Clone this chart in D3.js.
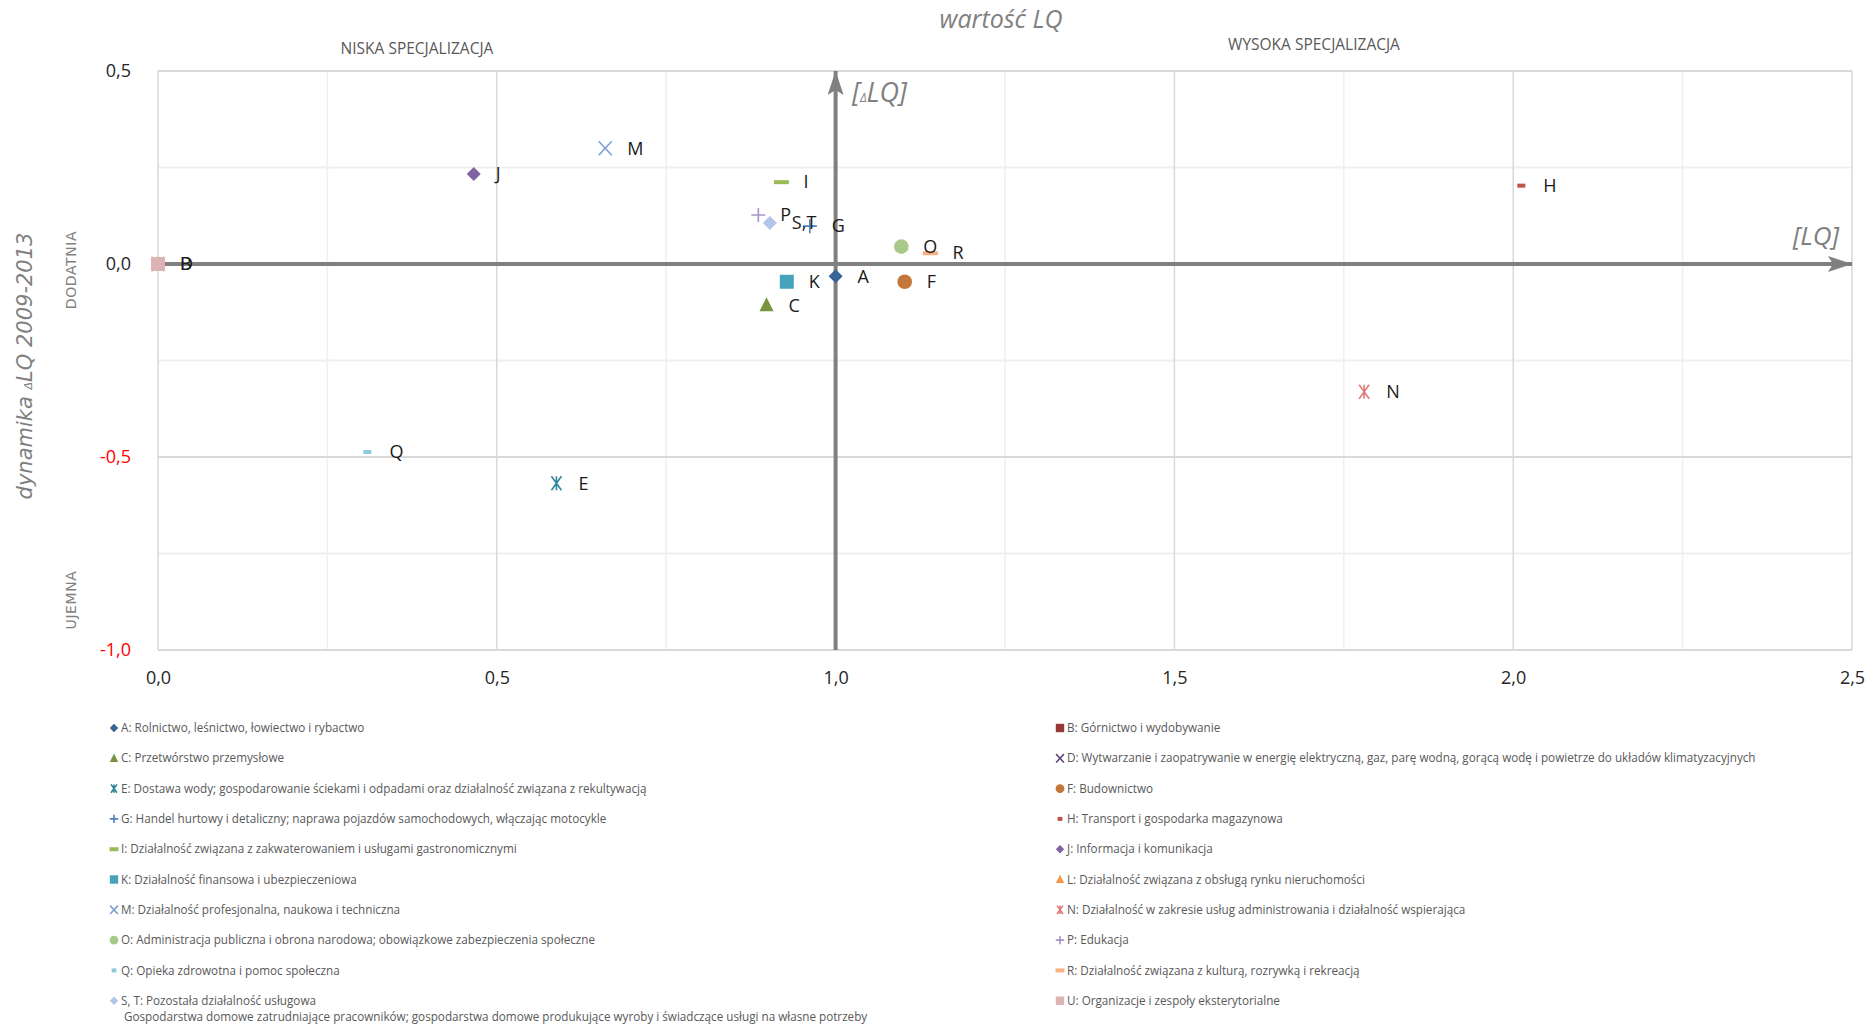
<!DOCTYPE html>
<html>
<head>
<meta charset="utf-8">
<script src="https://cdn.jsdelivr.net/npm/d3@7"></script>
<style>
    html, body { margin: 0; padding: 0; background: #fff; }
    svg { display: block; }
</style>
</head>
<body>
<svg id="chart" width="1865" height="1025"></svg>
<script>
// sections of the economy (PKD)
var codes = ['A', 'B', 'C', 'D', 'E', 'F', 'G', 'H', 'I', 'J', 'K', 'L', 'M', 'N', 'O', 'P', 'Q', 'R', 'S, T', 'U'];
var pointLabels = ['A', 'B', 'C', 'D', 'E', 'F', 'G', 'H', 'I', 'J', 'K', '', 'M', 'N', 'O', 'P', 'Q', 'R', 'S,T', ''];
var names = [
    'Rolnictwo, leśnictwo, łowiectwo i rybactwo',
    'Górnictwo i wydobywanie',
    'Przetwórstwo przemysłowe',
    'Wytwarzanie i zaopatrywanie w energię elektryczną, gaz, parę wodną, gorącą wodę i powietrze do układów klimatyzacyjnych',
    'Dostawa wody; gospodarowanie ściekami i odpadami oraz działalność związana z rekultywacją',
    'Budownictwo',
    'Handel hurtowy i detaliczny; naprawa pojazdów samochodowych, włączając motocykle',
    'Transport i gospodarka magazynowa',
    'Działalność związana z zakwaterowaniem i usługami gastronomicznymi',
    'Informacja i komunikacja',
    'Działalność finansowa i ubezpieczeniowa',
    'Działalność związana z obsługą rynku nieruchomości',
    'Działalność profesjonalna, naukowa i techniczna',
    'Działalność w zakresie usług administrowania i działalność wspierająca',
    'Administracja publiczna i obrona narodowa; obowiązkowe zabezpieczenia społeczne',
    'Edukacja',
    'Opieka zdrowotna i pomoc społeczna',
    'Działalność związana z kulturą, rozrywką i rekreacją',
    'Pozostała działalność usługowa',
    'Organizacje i zespoły eksterytorialne'
];
var nameSecondLine = 'Gospodarstwa domowe zatrudniające pracowników; gospodarstwa domowe produkujące wyroby i świadczące usługi na własne potrzeby';

// LQ value and its change 2009-2013
var lqValues  = [1.00, 0, 0.898, 0, 0.588, 1.102, 0.962, 2.012, 0.920, 0.466, 0.928, 0, 0.660, 1.780, 1.097, 0.886, 0.309, 1.140, 0.903, 0];
var dlqValues = [-0.032, 0, -0.107, 0, -0.568, -0.046, 0.098, 0.203, 0.212, 0.233, -0.046, 0, 0.300, -0.331, 0.045, 0.127, -0.487, 0.028, 0.106, 0];

var markerShapes = ['diamond', 'square', 'triangle', 'x', 'star', 'circle', 'plus', 'dashShort', 'dash', 'diamond',
                    'square', 'triangle', 'x', 'star', 'circle', 'plus', 'dashShort', 'dash', 'diamond', 'square'];
var markerColors = ['#3a6496', '#953735', '#77933c', '#5f497a', '#31859c', '#c5763a', '#4f81bd', '#c0504d', '#9bbb59', '#8064a2',
                    '#46a3bc', '#f79646', '#7d9fd0', '#e07b7b', '#a9c98a', '#a696c8', '#8ccbdc', '#f9b183', '#b4c6e7', '#ddb3b3'];

var xTicks = [0, 0.5, 1.0, 1.5, 2.0, 2.5];
var yTicks = [-1.0, -0.5, 0, 0.5];
var xMinorTicks = [0.25, 0.75, 1.25, 1.75, 2.25];
var yMinorTicks = [-0.75, -0.25, 0.25];

(function() {
    'use strict';

    var svg = d3.select('#chart');
    var fmt = function(v) { return v.toFixed(1).replace('.', ','); };
    var labelFont = '"Open Sans", sans-serif';

    var x = d3.scaleLinear().domain([0, 2.5]).range([158, 1852]);
    var y = d3.scaleLinear().domain([-1, 0.5]).range([650, 71]);

    svg.append('defs').append('marker')
        .attr('id', 'arrow')
        .attr('viewBox', '0 0 24 16')
        .attr('refX', 24).attr('refY', 8)
        .attr('markerUnits', 'userSpaceOnUse')
        .attr('markerWidth', 24).attr('markerHeight', 16)
        .attr('orient', 'auto')
        .append('path')
        .attr('d', 'M0,0 L24,8 L0,16 L5,8 Z')
        .attr('fill', '#808080');

    // grid
    var grid = svg.append('g').attr('class', 'grid');
    grid.selectAll('.vminor').data(xMinorTicks).enter().append('line')
        .attr('x1', x).attr('x2', x).attr('y1', y(0.5)).attr('y2', y(-1))
        .attr('stroke', '#efefef').attr('stroke-width', 1.5);
    grid.selectAll('.hminor').data(yMinorTicks).enter().append('line')
        .attr('y1', y).attr('y2', y).attr('x1', x(0)).attr('x2', x(2.5))
        .attr('stroke', '#efefef').attr('stroke-width', 2);
    grid.selectAll('.vmajor').data(xTicks).enter().append('line')
        .attr('x1', x).attr('x2', x).attr('y1', y(0.5)).attr('y2', y(-1))
        .attr('stroke', '#d9d9d9').attr('stroke-width', 1.5);
    grid.selectAll('.hmajor').data(yTicks).enter().append('line')
        .attr('y1', y).attr('y2', y).attr('x1', x(0)).attr('x2', x(2.5))
        .attr('stroke', '#d9d9d9').attr('stroke-width', 2);

    // tick labels
    var xAxis = svg.append('g')
        .attr('transform', 'translate(0,' + (y(-1) + 18) + ')')
        .call(d3.axisBottom(x).tickValues(xTicks).tickFormat(fmt).tickSize(0));
    xAxis.select('.domain').remove();
    xAxis.selectAll('text')
        .attr('font-family', labelFont).attr('font-size', 18).attr('fill', '#262626');

    var yAxis = svg.append('g')
        .attr('transform', 'translate(' + (x(0) - 24) + ',0)')
        .call(d3.axisLeft(y).tickValues(yTicks).tickFormat(fmt).tickSize(0));
    yAxis.select('.domain').remove();
    yAxis.selectAll('text')
        .attr('font-family', labelFont).attr('font-size', 18)
        .attr('fill', function(d) { return d < 0 ? '#ff0000' : '#262626'; });

    // quadrant axes with arrows
    svg.append('line')
        .attr('x1', x(0)).attr('x2', x(2.5)).attr('y1', y(0)).attr('y2', y(0))
        .attr('stroke', '#808080').attr('stroke-width', 4)
        .attr('marker-end', 'url(#arrow)');
    svg.append('line')
        .attr('x1', x(1)).attr('x2', x(1)).attr('y1', y(-1)).attr('y2', y(0.5))
        .attr('stroke', '#808080').attr('stroke-width', 4)
        .attr('marker-end', 'url(#arrow)');

    // points
    var points = codes.map(function(c, i) {
        return { code: c, label: pointLabels[i], lq: lqValues[i], dlq: dlqValues[i],
                 shape: markerShapes[i], color: markerColors[i] };
    });

    function drawMarker(g, shape, color, k) {
        var s = 7 * k;
        if (shape === 'diamond') {
            g.append('path').attr('d', 'M0,' + (-s) + 'L' + s + ',0L0,' + s + 'L' + (-s) + ',0Z').attr('fill', color);
        } else if (shape === 'square') {
            g.append('rect').attr('x', -s).attr('y', -s).attr('width', 2 * s).attr('height', 2 * s).attr('fill', color);
        } else if (shape === 'triangle') {
            g.append('path').attr('d', 'M0,' + (-8 * k) + 'L' + s + ',' + (6 * k) + 'L' + (-s) + ',' + (6 * k) + 'Z').attr('fill', color);
        } else if (shape === 'circle') {
            g.append('circle').attr('r', 7.3 * k).attr('fill', color);
        } else if (shape === 'dash') {
            g.append('rect').attr('x', -7.5 * k).attr('y', -2).attr('width', 15 * k).attr('height', 4).attr('fill', color);
        } else if (shape === 'dashShort') {
            g.append('rect').attr('x', -4 * k).attr('y', -2).attr('width', 8 * k).attr('height', 4).attr('fill', color);
        } else {
            var d = '';
            if (shape === 'plus' || shape === 'star') d += 'M0,' + (-s) + 'V' + s;
            if (shape === 'plus') d += 'M' + (-s) + ',0H' + s;
            if (shape === 'x' || shape === 'star') {
                var a = shape === 'star' ? 5 * k : 6.5 * k;
                d += 'M' + (-a) + ',' + (-s) + 'L' + a + ',' + s + 'M' + a + ',' + (-s) + 'L' + (-a) + ',' + s;
            }
            g.append('path').attr('d', d).attr('stroke', color).attr('stroke-width', 1.6).attr('fill', 'none');
        }
    }

    var pts = svg.append('g').attr('class', 'points');
    points.forEach(function(p) {
        var g = pts.append('g').attr('transform', 'translate(' + x(p.lq) + ',' + y(p.dlq) + ')');
        drawMarker(g, p.shape, p.color, 1);
    });

    svg.append('g').selectAll('text').data(points.filter(function(p) { return p.label; }))
        .enter().append('text')
        .attr('x', function(p) { return x(p.lq) + 22; })
        .attr('y', function(p) { return y(p.dlq); })
        .attr('dy', '0.35em')
        .attr('font-family', labelFont).attr('font-size', 18).attr('fill', '#1a1a1a')
        .text(function(p) { return p.label; });

    // titles and annotations
    svg.append('text').attr('x', 1001).attr('y', 28).attr('text-anchor', 'middle')
        .attr('font-family', labelFont).attr('font-style', 'italic').attr('font-size', 25).attr('fill', '#808080')
        .text('wartość LQ');
    svg.append('text').attr('x', 417).attr('y', 54).attr('text-anchor', 'middle')
        .attr('font-family', labelFont).attr('font-size', 15.5).attr('fill', '#595959')
        .text('NISKA SPECJALIZACJA');
    svg.append('text').attr('x', 1314).attr('y', 50).attr('text-anchor', 'middle')
        .attr('font-family', labelFont).attr('font-size', 15.5).attr('fill', '#595959')
        .text('WYSOKA SPECJALIZACJA');

    var dl = svg.append('text').attr('x', 852).attr('y', 102)
        .attr('font-family', labelFont).attr('font-style', 'italic').attr('font-size', 27).attr('fill', '#808080');
    dl.append('tspan').text('[');
    dl.append('tspan').attr('font-size', 12).text('Δ');
    dl.append('tspan').text('LQ]');
    svg.append('text').attr('x', 1839).attr('y', 245).attr('text-anchor', 'end')
        .attr('font-family', labelFont).attr('font-style', 'italic').attr('font-size', 26).attr('fill', '#808080')
        .text('[LQ]');

    var yt = svg.append('text')
        .attr('transform', 'translate(32,366) rotate(-90)')
        .attr('text-anchor', 'middle')
        .attr('font-family', '"DejaVu Sans", sans-serif').attr('font-style', 'italic')
        .attr('font-size', 21).attr('fill', '#808080');
    yt.append('tspan').text('dynamika ');
    yt.append('tspan').attr('font-size', 11).text('Δ');
    yt.append('tspan').text('LQ 2009-2013');

    svg.append('text').attr('transform', 'translate(76,270) rotate(-90)').attr('text-anchor', 'middle')
        .attr('font-family', '"DejaVu Sans", sans-serif').attr('font-size', 14).attr('letter-spacing', 0.6)
        .attr('fill', '#808080').text('DODATNIA');
    svg.append('text').attr('transform', 'translate(76,600) rotate(-90)').attr('text-anchor', 'middle')
        .attr('font-family', '"DejaVu Sans", sans-serif').attr('font-size', 14).attr('letter-spacing', 0.6)
        .attr('fill', '#808080').text('UJEMNA');

    // legend: two columns, A C E ... left, B D F ... right
    var legend = svg.append('g').attr('class', 'legend');
    points.forEach(function(p, i) {
        var col = i % 2, row = Math.floor(i / 2);
        var lx = col === 0 ? 114 : 1060;
        var ly = 728 + row * 30.3;
        var g = legend.append('g').attr('transform', 'translate(' + lx + ',' + ly + ')');
        drawMarker(g, p.shape, p.color, 0.6);
        g.append('text').attr('x', 7).attr('dy', '0.35em')
            .attr('font-family', labelFont).attr('font-size', 11.7).attr('fill', '#595959')
            .text(p.code + ': ' + names[i]);
        if (p.code === 'S, T') {
            g.append('text').attr('x', 10).attr('y', 16.5).attr('dy', '0.35em')
                .attr('font-family', labelFont).attr('font-size', 11.7).attr('fill', '#595959')
                .text(nameSecondLine);
        }
    });
}());
</script>
</body>
</html>
